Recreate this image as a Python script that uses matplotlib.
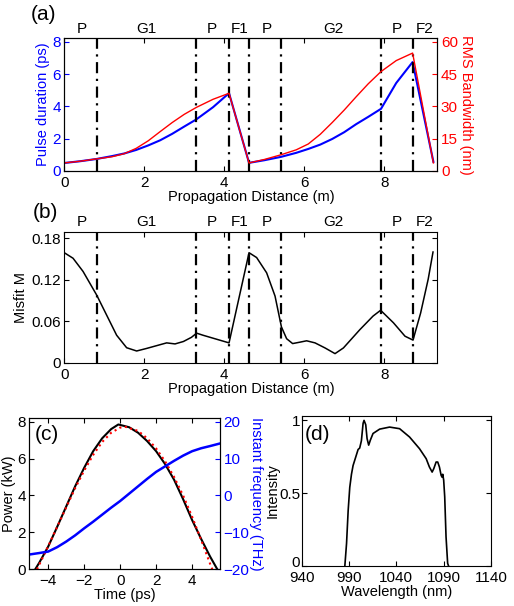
import matplotlib
matplotlib.use('Agg')
import matplotlib.pyplot as plt
import matplotlib.transforms as mtrans

plt.rcParams['font.family'] = ['Liberation Sans', 'DejaVu Sans']
plt.rcParams['font.size'] = 10.5
plt.rcParams['xtick.labelsize'] = 11
plt.rcParams['ytick.labelsize'] = 11
plt.rcParams['xtick.direction'] = 'in'
plt.rcParams['ytick.direction'] = 'in'
plt.rcParams['ytick.major.pad'] = 2.5

# (a) pulse duration / RMS bandwidth along the cavity
z_a = [0, 0.4, 0.81, 1.2, 1.5, 1.8, 2.1, 2.4, 2.7, 3.0, 3.3, 3.72, 4.12,
       4.62, 5.0, 5.42, 5.8, 6.1, 6.4, 6.7, 7.0, 7.3, 7.6, 7.92, 8.3, 8.71, 9.23]
duration = [0.49, 0.6, 0.74, 0.92, 1.08, 1.3, 1.58, 1.9, 2.3, 2.75, 3.19, 3.95, 4.82,
            0.5, 0.66, 0.87, 1.12, 1.36, 1.63, 1.98, 2.4, 2.9, 3.35, 3.85, 5.45, 6.75, 0.56]
bandwidth = [3.7, 4.5, 5.6, 6.6, 8.0, 10.5, 14.0, 18.3, 22.5, 26.3, 29.5, 33.3, 36.1,
             3.7, 5.3, 7.5, 9.8, 12.5, 17.0, 22.5, 28.3, 34.5, 40.5, 46.2, 51.3, 54.8, 3.7]

# (b) misfit
z_b = [0, 0.22, 0.47, 0.81, 1.06, 1.31, 1.56, 1.81, 2.06, 2.31, 2.56, 2.77, 2.98, 3.18, 3.31,
       3.47, 4.12, 4.62, 4.81, 5.06, 5.27, 5.43, 5.56, 5.71, 5.89, 6.06, 6.27, 6.52, 6.77,
       6.98, 7.39, 7.72, 7.91, 8.23, 8.52, 8.72, 8.91, 9.10, 9.22]
misfit = [0.159, 0.151, 0.132, 0.098, 0.069, 0.040, 0.022, 0.0173, 0.021, 0.025, 0.029, 0.0275,
          0.031, 0.037, 0.043, 0.040, 0.029, 0.159, 0.152, 0.130, 0.0965, 0.052, 0.035, 0.028,
          0.030, 0.032, 0.029, 0.0217, 0.0135, 0.0217, 0.048, 0.0676, 0.076, 0.058, 0.0386,
          0.033, 0.072, 0.121, 0.160]

# section boundaries and names
bounds = [0.81, 3.3, 4.12, 4.62, 5.42, 7.92, 8.71]
sec_pos = [0.43, 2.06, 3.7, 4.39, 5.06, 6.72, 8.31, 9.02]
sec_names = ['P', 'G1', 'P', 'F1', 'P', 'G2', 'P', 'F2']

# (c) temporal profile
t_pow = [-4.72, -4.5, -4.0, -3.5, -3.0, -2.5, -2.0, -1.5, -1.0, -0.5, -0.1, 0.5, 1.0, 1.5,
         2.0, 2.5, 3.0, 3.5, 4.0, 4.5, 5.0, 5.4]
power = [0, 0.35, 1.23, 2.3, 3.4, 4.5, 5.5, 6.4, 7.1, 7.6, 7.85, 7.7, 7.4, 6.95,
         6.4, 5.7, 4.85, 3.8, 2.67, 1.65, 0.69, 0]
t_fit = [-4.62, -4.0, -3.5, -3.0, -2.5, -2.0, -1.5, -1.0, -0.5, 0.0, 0.3, 1.0, 1.5, 2.0,
         2.5, 3.0, 3.5, 4.0, 4.5, 5.0, 5.12]
power_fit = [0, 1.25, 2.3, 3.35, 4.4, 5.35, 6.2, 6.9, 7.4, 7.68, 7.72, 7.5, 7.1, 6.55,
             5.85, 5.0, 4.0, 2.85, 1.6, 0.3, 0]
t_freq = [-5.05, -4.5, -4.0, -3.5, -3.0, -2.5, -2.0, -1.5, -1.0, -0.5, 0, 0.5, 1.0, 1.5,
          2.0, 2.5, 3.0, 3.5, 4.0, 4.5, 5.0, 5.55]
freq = [-16, -15.6, -15.2, -14.0, -12.5, -10.8, -8.9, -7.1, -5.2, -3.3, -1.5, 0.5, 2.5, 4.5,
        6.4, 7.9, 9.4, 10.8, 12.0, 12.8, 13.4, 14.1]

# (d) spectrum
wl = [985.6, 987.4, 989.1, 990.8, 992.6, 994.3, 997.2, 999.6, 1001.3, 1003.1, 1004.9, 1005.9,
      1007.7, 1009.1, 1010.8, 1012.6, 1015.4, 1022.4, 1032.9, 1043.5, 1054, 1064.5, 1071.6,
      1075, 1077.9, 1079.6, 1082.1, 1083.8, 1085.6, 1087.4, 1088.4, 1089.1, 1090.1, 1091.2,
      1092.6, 1094.3, 1095.3]
intensity = [0, 0.155, 0.38, 0.54, 0.63, 0.69, 0.75, 0.80, 0.81, 0.86, 0.98, 1.0,
             0.97, 0.875, 0.83, 0.865, 0.91, 0.94, 0.954, 0.943, 0.886, 0.806, 0.737,
             0.68, 0.645, 0.668, 0.714, 0.714, 0.68, 0.623, 0.61, 0.63, 0.59, 0.475,
             0.2, 0.018, 0]

fig = plt.figure(figsize=(5.14, 6.06), dpi=100)


def mark_sections(ax, lab_off):
    for b in bounds:
        ax.axvline(b, color='k', lw=1.6, ls=(0, (5, 2.5, 1, 2.5)))
    for p, n in zip(sec_pos, sec_names):
        ax.annotate(n, (p, 1), xycoords=('data', 'axes fraction'), xytext=(0, lab_off),
                    textcoords='offset points', ha='center', va='center', fontsize=11)


# panel (a)
axa = fig.add_axes([0.125, 0.718, 0.726, 0.219])
axa.plot(z_a, duration, color='#0000ff', lw=1.5)
axa.set_xlim(0, 9.33)
axa.set_ylim(0, 8.23)
axa.set_yticks([0, 2, 4, 6, 8])
axa.set_xticks([0, 2, 4, 6, 8])
axa.tick_params(top=True, colors='#0000ff', axis='y')
axa.tick_params(top=True, axis='x')
axa.set_ylabel('Pulse duration (ps)', color='#0000ff', labelpad=2)
axa.set_xlabel('Propagation Distance (m)', labelpad=0)
mark_sections(axa, 6.5)
axa2 = axa.twinx()
axa2.plot(z_a, bandwidth, color='#ff0000', lw=1)
axa2.set_ylim(0, 8.23 * 7.5)
axa2.set_yticks([0, 15, 30, 45, 60])
axa2.tick_params(axis='y', colors='#ff0000')
axa2.set_ylabel('RMS Bandwidth (nm)', color='#ff0000', rotation=270, labelpad=11)

# panel (b)
axb = fig.add_axes([0.125, 0.401, 0.726, 0.216])
axb.plot(z_b, misfit, color='k', lw=1.1)
axb.set_xlim(0, 9.33)
axb.set_ylim(0, 0.1887)
axb.set_yticks([0, 0.06, 0.12, 0.18])
axb.set_yticklabels(['0', '0.06', '0.12', '0.18'])
axb.set_xticks([0, 2, 4, 6, 8])
axb.tick_params(top=True, right=True)
axb.set_ylabel('Misfit M', labelpad=2)
axb.set_xlabel('Propagation Distance (m)', labelpad=0)
mark_sections(axb, 7)

# panel (c)
axc = fig.add_axes([0.057, 0.0606, 0.371, 0.249])
axc.plot(t_pow, power, color='k', lw=1.5)
axc.plot(t_fit, power_fit, color='#ff0000', lw=1.5, ls=':')
axc.set_xlim(-5.05, 5.55)
axc.set_ylim(0, 8.18)
axc.set_xticks([-4, -2, 0, 2, 4])
axc.set_yticks([0, 2, 4, 6, 8])
axc.tick_params(top=True)
axc.set_ylabel('Power (kW)', labelpad=1)
axc.set_xlabel('Time (ps)', labelpad=0)
axc2 = axc.twinx()
axc2.plot(t_freq, freq, color='#0000ff', lw=1.8)
axc2.set_ylim(-20, -20 + 8.18 * 5)
axc2.set_yticks([-20, -10, 0, 10, 20])
axc2.tick_params(axis='y', colors='#0000ff')
axc2.set_ylabel('Instant frequency (THz)', color='#0000ff', rotation=270, labelpad=10)

# panel (d)
axd = fig.add_axes([0.587, 0.066, 0.368, 0.2475])
axd.plot(wl, intensity, color='k', lw=1.2)
axd.set_xlim(940, 1140)
axd.set_ylim(0, 1.03)
axd.set_xticks([940, 990, 1040, 1090, 1140])
axd.set_yticks([0, 0.5, 1])
axd.set_yticklabels(['0', '0.5', '1'])
axd.tick_params(top=True, right=True)
axd.tick_params(axis='y', pad=1)
axd.set_ylabel('Intensity', labelpad=0)
axd.set_xlabel('Wavelength (nm)', labelpad=0)
# nudge the bottom "0" up so it clears the "940" below it
lab0 = axd.get_yticklabels()[0]
lab0.set_transform(lab0.get_transform() + mtrans.ScaledTranslation(0, 3 / 72, fig.dpi_scale_trans))

for lab, x, y in [('(a)', 43, 15), ('(b)', 45, 213), ('(c)', 46.5, 435), ('(d)', 317.5, 435)]:
    fig.text(x / 514, 1 - y / 606, lab, fontsize=15, ha='center', va='center')

fig.savefig('out.png', dpi=100)
